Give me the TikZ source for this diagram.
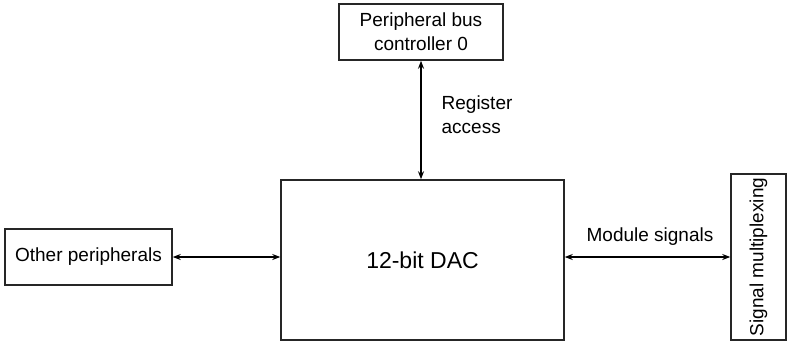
\documentclass[tikz,border=0pt]{standalone}
\usepackage{fontspec}
\setmainfont{Liberation Sans}
\usetikzlibrary{arrows.meta}
\tikzset{
  every picture/.style={font=\fontsize{19}{24}\selectfont, line width=1.3pt},
  box/.style={draw=black!85, fill=white, align=center, inner sep=0pt, line width=1.5pt},
  arrow/.style={{Stealth[length=8pt,width=6pt]}-{Stealth[length=8pt,width=6pt]}, draw=black, line width=1.3pt},
  note/.style={align=left, inner sep=0pt},
}
\begin{document}
\begin{tikzpicture}[x=1pt, y=1pt]
  \useasboundingbox (0,0) rectangle (787,341);
  % blocks
  \node[box, minimum width=164, minimum height=56] (pbc) at (421,309) {Peripheral bus\\controller 0};
  \node[box, minimum width=283, minimum height=160, font=\fontsize{23}{28}\selectfont] (dac) at (422.5,81) {12-bit DAC};
  \node[box, minimum width=167, minimum height=56] (other) at (88.5,84) {Other peripherals};
  \node[box, rotate=90, minimum width=166, minimum height=55] (mux) at (758.5,84) {Signal multiplexing};
  % connections
  \draw[arrow] (pbc.south) -- (pbc.south |- dac.north);
  \draw[arrow] (other.east) -- (other.east -| dac.west);
  \draw[arrow] (mux.north |- other.east) -- (other.east -| dac.east);
  % labels
  \node[note, anchor=west] (reg) at (441,226) {Register\\access};
  \node[note] (mod) at (650,104) {Module signals};
\end{tikzpicture}
\end{document}
